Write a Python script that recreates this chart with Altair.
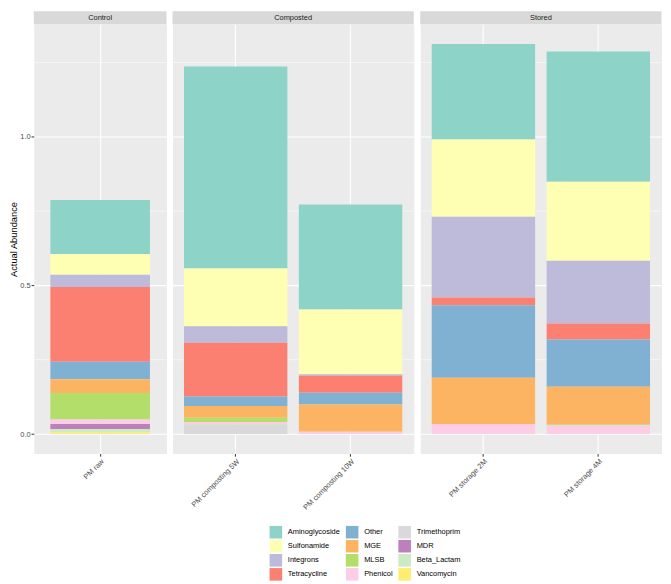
import altair as alt
import pandas as pd

# Stack order, top to bottom (also ggplot legend order, column-wise)
genes = ["Aminoglycoside", "Sulfonamide", "Integrons", "Tetracycline", "Other", "MGE",
         "MLSB", "Phenicol", "Trimethoprim", "MDR", "Beta_Lactam", "Vancomycin"]
gene_colors = ["#8DD3C7", "#FFFFB3", "#BEBADA", "#FB8072", "#80B1D3", "#FDB462",
               "#B3DE69", "#FCCDE5", "#D9D9D9", "#BC80BD", "#CCEBC5", "#FFED6F"]

samples = ["PM raw", "PM composting  5W", "PM composting 10W", "PM storage 2M", "PM storage 4M"]
groups = ["Control", "Composted", "Composted", "Stored", "Stored"]

# values per gene, in sample order
aminoglycoside = [0.181, 0.679, 0.353, 0.321, 0.438]
sulfonamide = [0.070, 0.194, 0.218, 0.260, 0.266]
integrons = [0.041, 0.056, 0.005, 0.272, 0.211]
tetracycline = [0.252, 0.181, 0.057, 0.026, 0.054]
other = [0.059, 0.032, 0.040, 0.244, 0.159]
mge = [0.046, 0.039, 0.091, 0.155, 0.126]
mlsb = [0.089, 0.015, 0.0, 0.0, 0.003]
phenicol = [0.015, 0.007, 0.008, 0.034, 0.030]
trimethoprim = [0.0, 0.033, 0.0, 0.0, 0.0]
mdr = [0.017, 0.0, 0.0, 0.0, 0.0]
beta_lactam = [0.012, 0.0, 0.0, 0.0, 0.0]
vancomycin = [0.005, 0.0, 0.0, 0.0, 0.0]

series = [aminoglycoside, sulfonamide, integrons, tetracycline, other, mge,
          mlsb, phenicol, trimethoprim, mdr, beta_lactam, vancomycin]

y_ticks = [0.0, 0.5, 1.0]
y_minor = [0.25, 0.75, 1.25]
y_domain = [-0.0656, 1.3776]

rows = []
for gi, (g, vals) in enumerate(zip(genes, series)):
    for s, grp, v in zip(samples, groups, vals):
        if v > 0:
            rows.append({"sample": s, "group": grp, "gene": g, "value": v,
                         "order": len(genes) - 1 - gi})
df = pd.DataFrame(rows)

FONT = "Liberation Sans"
H = 433
STRIP = 13.3

legend = alt.Legend(title=None, orient="none", legendX=237.8, legendY=505.8, columns=3,
                    symbolType="square", symbolSize=161, symbolStrokeWidth=0,
                    labelFontSize=7.5, labelColor="black", labelFont=FONT,
                    labelOffset=5.6, rowPadding=1.2, columnPadding=5, padding=0)


def panel(gname, w, po, first):
    sub = df[df.group == gname]
    xs = [s for s, g in zip(samples, groups) if g == gname]
    xaxis = alt.Axis(title=None, labelAngle=315, labelAlign="right", labelBaseline="top",
                     grid=True, gridColor="white", gridWidth=1.1, domain=False,
                     tickColor="#333333", tickSize=2.7, tickWidth=1,
                     labelFontSize=7.5, labelColor="#4D4D4D", labelFont=FONT, labelPadding=1)
    if first:
        yaxis = alt.Axis(values=y_ticks, format=".1f", grid=True, gridColor="white", gridWidth=1.1,
                         domain=False, tickColor="#333333", tickSize=2.7, tickWidth=1,
                         labelFontSize=7.5, labelColor="#4D4D4D", labelFont=FONT, labelPadding=1,
                         title="Actual Abundance", titleFontSize=9.4, titleFontWeight="normal",
                         titleColor="black", titleFont=FONT, titlePadding=1)
    else:
        yaxis = alt.Axis(values=y_ticks, grid=True, gridColor="white", gridWidth=1.1,
                         domain=False, ticks=False, labels=False, title=None)
    yscale = alt.Scale(domain=y_domain, nice=False, zero=False)

    minor = alt.Chart(pd.DataFrame({"value": y_minor})).mark_rule(
        color="white", strokeWidth=0.55).encode(
        y=alt.Y("value:Q", scale=yscale, axis=yaxis))

    bars = alt.Chart(sub).mark_bar().encode(
        x=alt.X("sample:N", sort=xs, scale=alt.Scale(paddingInner=0.1, paddingOuter=po), axis=xaxis),
        y=alt.Y("value:Q", stack="zero", scale=yscale, axis=yaxis),
        color=alt.Color("gene:N", scale=alt.Scale(domain=genes, range=gene_colors),
                        legend=legend),
        order=alt.Order("order:Q", sort="ascending"),
    )

    sdf = pd.DataFrame({"label": [gname]})
    strip_rect = alt.Chart(sdf).mark_rect(fill="#D9D9D9").encode(
        x=alt.value(0), x2=alt.value(w), y=alt.value(-STRIP), y2=alt.value(0))
    strip_text = alt.Chart(sdf).mark_text(fontSize=7.5, color="#1A1A1A", font=FONT,
                                          baseline="middle").encode(
        x=alt.value(w / 2), y=alt.value(-STRIP / 2), text="label:N")

    return alt.layer(minor, bars, strip_rect, strip_text).properties(width=w, height=H)


p1 = panel("Control", 134, 0.15, True)
p2 = panel("Composted", 243.5, 0.1, False)
p3 = panel("Stored", 243.5, 0.1, False)

chart = alt.hconcat(p1, p2, p3, spacing=4).resolve_scale(color="shared").properties(
    padding={"left": 0, "top": 0, "right": 0, "bottom": 0}
).configure(font=FONT).configure_view(fill="#EBEBEB", stroke="transparent")

chart.save("out.html", embed_options={"renderer": "svg", "actions": False})
